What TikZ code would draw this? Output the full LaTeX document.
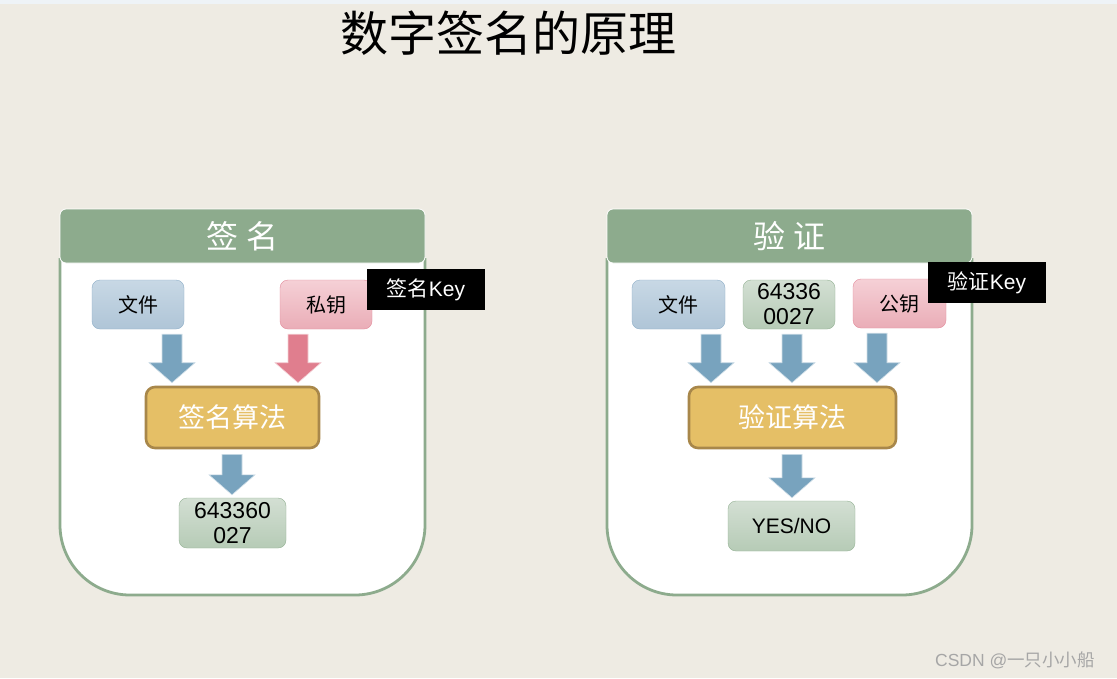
\documentclass[tikz,border=0pt]{standalone}
\usepackage{fontspec}
\setmainfont{Liberation Sans}
\newfontfamily\cjk{Noto Sans CJK SC}
\usepackage{tikz}
\usetikzlibrary{calc}
\definecolor{bgcol}{HTML}{EEEBE3}
\definecolor{sage}{HTML}{8DAB8D}
\definecolor{arrblue}{HTML}{78A3BE}
\definecolor{arrpink}{HTML}{E07E8E}
\definecolor{gold}{HTML}{E5BF66}
\definecolor{golddark}{HTML}{A8874A}
\definecolor{blueedge}{HTML}{8FAFC8}
\definecolor{bluetop}{HTML}{C8D8E5}
\definecolor{bluebot}{HTML}{AFC5D7}
\definecolor{pinkedge}{HTML}{E38B9B}
\definecolor{pinktop}{HTML}{F5D0D6}
\definecolor{pinkbot}{HTML}{EAADB7}
\definecolor{greenedge}{HTML}{93B193}
\definecolor{greentop}{HTML}{D3DFD3}
\definecolor{greenbot}{HTML}{B6CBB6}

% 块状箭头：颜色, x 位置, 起点节点, 终点节点
\newcommand{\blockarrow}[4]{%
  \path[fill=#1,draw=#1!35!white,line width=0.6pt]
    let \p1=(#2,0), \p2=(#3.south), \p3=(#4.north) in
    (\x1-10pt,\y2-5pt) -- (\x1+10pt,\y2-5pt) -- (\x1+10pt,\y3+23pt)
    -- (\x1+23pt,\y3+23pt) -- (\x1,\y3+3pt) -- (\x1-23pt,\y3+23pt)
    -- (\x1-10pt,\y3+23pt) -- cycle;}

\begin{document}
\begin{tikzpicture}[x=1pt,y=-1pt,
  header/.style={draw=white,line width=0.8pt,fill=sage,rounded corners=6pt,
    minimum width=365pt,minimum height=54pt,text=white,
    font=\cjk\fontsize{32}{36}\selectfont},
  panel/.style={draw=sage,line width=2.8pt,fill=white,rounded corners=70pt},
  bluebox/.style={draw=blueedge,rounded corners=8pt,top color=bluetop,bottom color=bluebot,
    minimum width=92pt,minimum height=49pt,inner sep=0pt,font=\cjk\fontsize{20}{22}\selectfont},
  pinkbox/.style={bluebox,draw=pinkedge,top color=pinktop,bottom color=pinkbot},
  greenbox/.style={bluebox,draw=greenedge,top color=greentop,bottom color=greenbot,
    font=\fontsize{23}{25}\selectfont,align=center},
  algbox/.style={draw=golddark,line width=2.6pt,fill=gold,rounded corners=9pt,
    minimum height=61pt,text=white,font=\cjk\fontsize{27}{30}\selectfont},
  keytag/.style={fill=black,text=white,minimum width=118pt,minimum height=41pt,
    inner sep=0pt,font=\fontsize{21}{24}\selectfont}]
  % 背景
  \fill[bgcol] (0,0) rectangle (1117,678);
  \fill[bluetop!30!white] (0,0) rectangle (1117,4);
  \useasboundingbox (0,0) rectangle (1117,678);
  % 标题
  \node[font=\cjk\fontsize{48}{52}\selectfont] (title) at (508,33) {数字签名的原理};

  % 签名
  \filldraw[panel] (425,258) -- (425,595) -- (60,595) -- (60,258);
  \node[header] (hdrL) at (242.5,236) {签 名};
  \node[bluebox] (fileL) at (138,304.5) {文件};
  \node[pinkbox] (privL) at (326,304.5) {私钥};
  \node[keytag] (tagL) at (426,289.5) {{\cjk 签名}Key};
  \node[algbox,minimum width=173pt] (algL) at (232.5,417.5) {签名算法};
  \node[greenbox,minimum width=107pt,minimum height=50pt] (sigL) at (232.5,523) {643360\\027};
  \blockarrow{arrblue}{172}{fileL}{algL}
  \blockarrow{arrpink}{298}{privL}{algL}
  \blockarrow{arrblue}{232}{algL}{sigL}

  % 验证
  \filldraw[panel] (972,258) -- (972,595) -- (607,595) -- (607,258);
  \node[header] (hdrR) at (789.5,236) {验 证};
  \node[bluebox,minimum width=93pt] (fileR) at (678.5,304.5) {文件};
  \node[greenbox] (numR) at (789,304.5) {64336\\0027};
  \node[pinkbox,minimum width=93pt] (pubR) at (899.5,303.5) {公钥};
  \node[keytag] (tagR) at (987,282.5) {{\cjk 验证}Key};
  \node[algbox,minimum width=207pt] (algR) at (792.5,417.5) {验证算法};
  \node[greenbox,minimum width=127pt,minimum height=50pt,font=\fontsize{21}{24}\selectfont] (resR) at (791.5,526) {YES/NO};
  \blockarrow{arrblue}{711}{fileR}{algR}
  \blockarrow{arrblue}{792}{numR}{algR}
  \blockarrow{arrblue}{877}{pubR}{algR}
  \blockarrow{arrblue}{792}{algR}{resR}

  % 水印
  \node[text=black!35,font=\fontsize{17.5}{20}\selectfont] (mark) at (1015,660) {CSDN @{\cjk 一只小小船}};
\end{tikzpicture}
\end{document}
